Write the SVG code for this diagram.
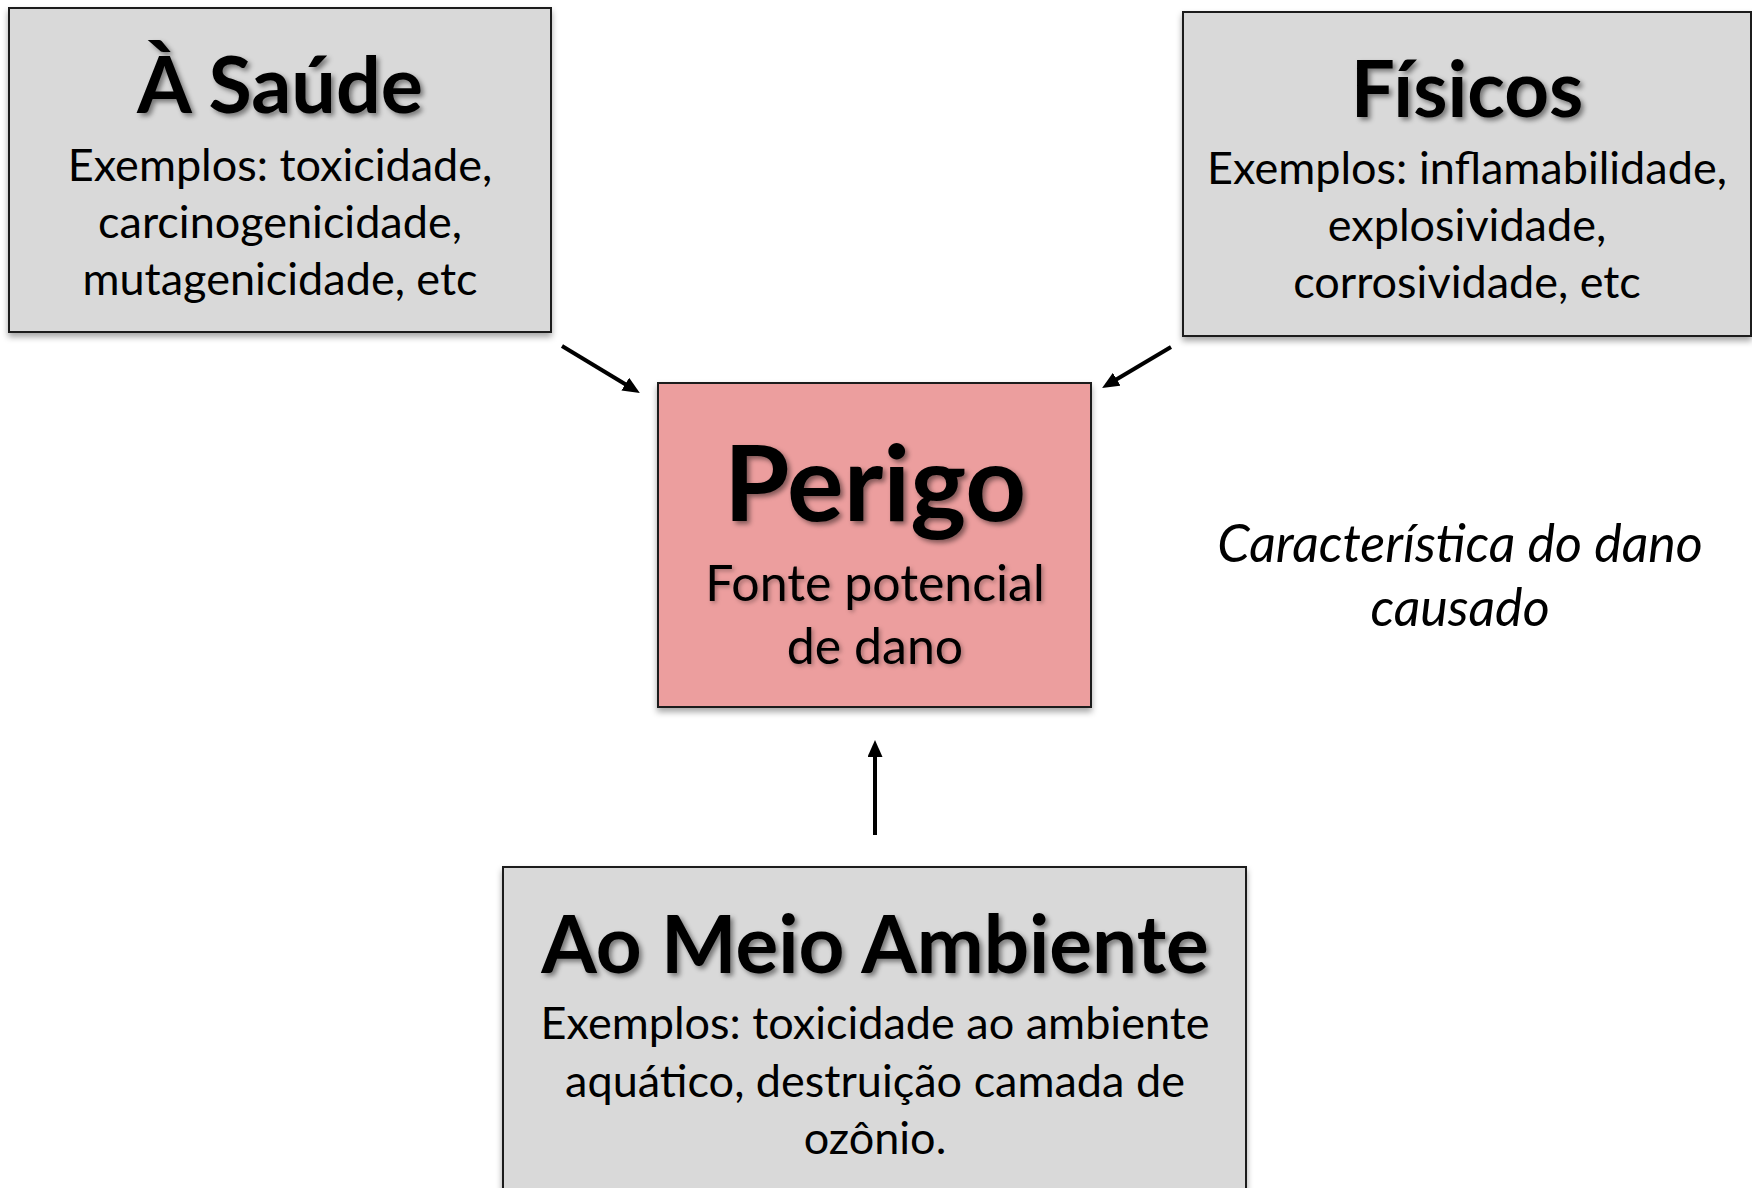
<svg xmlns="http://www.w3.org/2000/svg" width="1752" height="1188" viewBox="0 0 1752 1188">
<style>
.box{fill:#d9d9d9;stroke:#1a1a1a;stroke-width:2}
.hot{fill:#ec9e9e;stroke:#1a1a1a;stroke-width:2}
.title{font-family:Lato,"Liberation Sans",sans-serif;font-weight:bold;fill:#000;text-anchor:middle}
.body{font-family:Lato,"Liberation Sans",sans-serif;font-size:45px;fill:#000;text-anchor:middle}
.note{font-family:Lato,"Liberation Sans",sans-serif;font-style:italic;font-size:52px;fill:#000;text-anchor:middle}
.conn{stroke:#000;stroke-width:4;fill:none}
</style>
<defs>
<filter id="bs" x="-5%" y="-5%" width="110%" height="115%"><feDropShadow dx="0" dy="4" stdDeviation="3" flood-color="#000" flood-opacity="0.35"/></filter>
<filter id="ts" x="-10%" y="-20%" width="120%" height="140%"><feDropShadow dx="3" dy="3" stdDeviation="2.5" flood-color="#000" flood-opacity="0.45"/></filter>
<filter id="ts2" x="-10%" y="-20%" width="120%" height="140%"><feDropShadow dx="2" dy="2" stdDeviation="2" flood-color="#000" flood-opacity="0.3"/></filter>
<marker id="ah" markerUnits="userSpaceOnUse" markerWidth="17" markerHeight="15" refX="2" refY="7.5" orient="auto"><path d="M0,0 L17,7.5 L0,15 z" fill="#000"/></marker>
</defs>
<g id="connectors">
<line class="conn" x1="562" y1="346" x2="627" y2="385.2" marker-end="url(#ah)"/>
<line class="conn" x1="1171" y1="347" x2="1115" y2="380.3" marker-end="url(#ah)"/>
<line class="conn" x1="875" y1="835" x2="875" y2="755" marker-end="url(#ah)"/>
</g>
<g id="saude">
<rect class="box" x="9" y="8" width="542" height="324" filter="url(#bs)"/>
<text class="title" x="280" y="113" font-size="79" filter="url(#ts)">À Saúde</text>
<text class="body" x="280" y="181">Exemplos: toxicidade,</text>
<text class="body" x="280" y="238">carcinogenicidade,</text>
<text class="body" x="280" y="295">mutagenicidade, etc</text>
</g>
<g id="fisicos">
<rect class="box" x="1183" y="12" width="568" height="324" filter="url(#bs)"/>
<text class="title" x="1467" y="117" font-size="78" filter="url(#ts)">Físicos</text>
<text class="body" x="1467" y="184">Exemplos: inflamabilidade,</text>
<text class="body" x="1467" y="241">explosividade,</text>
<text class="body" x="1467" y="298">corrosividade, etc</text>
</g>
<g id="perigo">
<rect class="hot" x="658" y="383" width="433" height="324" filter="url(#bs)"/>
<text class="title" x="875" y="521" font-size="106" filter="url(#ts)">Perigo</text>
<text class="body" x="875" y="601" style="font-size:50px" filter="url(#ts2)">Fonte potencial</text>
<text class="body" x="875" y="664" style="font-size:50px" filter="url(#ts2)">de dano</text>
</g>
<g id="ambiente">
<rect class="box" x="503" y="867" width="743" height="340" filter="url(#bs)"/>
<text class="title" x="875" y="973" font-size="80" filter="url(#ts)">Ao Meio Ambiente</text>
<text class="body" x="875" y="1039">Exemplos: toxicidade ao ambiente</text>
<text class="body" x="875" y="1097">aquático, destruição camada de</text>
<text class="body" x="875" y="1154">ozônio.</text>
</g>
<g id="nota">
<text class="note" x="1460" y="562">Característica do dano</text>
<text class="note" x="1460" y="626">causado</text>
</g>
</svg>
